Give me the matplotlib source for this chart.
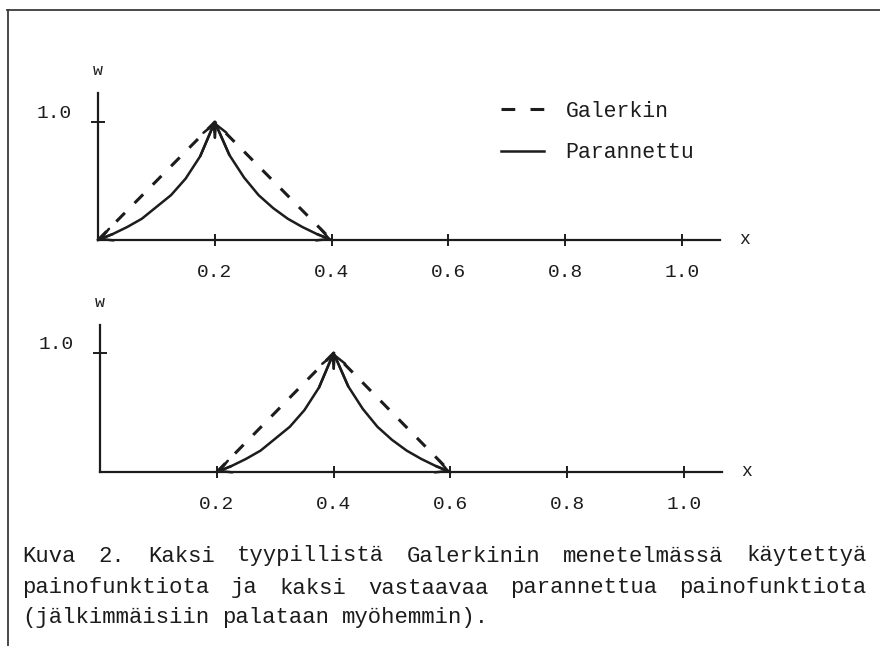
import matplotlib
matplotlib.use("Agg")
import matplotlib.pyplot as plt
from matplotlib.lines import Line2D

plt.rcParams['font.family'] = ['Liberation Mono', 'DejaVu Sans Mono']

# luetut arvot kuvasta
tick_x = [0.2, 0.4, 0.6, 0.8, 1.0]
tick_labels = ['0.2', '0.4', '0.6', '0.8', '1.0']

# ylempi: Galerkin (hattufunktio) ja parannettu
gal1_x = [0.0, 0.2, 0.4]
gal1_w = [0.0, 1.0, 0.0]
par1_x = [0.0, 0.025, 0.05, 0.075, 0.1, 0.125, 0.15, 0.175, 0.2,
          0.225, 0.25, 0.275, 0.3, 0.325, 0.35, 0.375, 0.4]
par1_w = [0.0, 0.05, 0.11, 0.18, 0.28, 0.38, 0.52, 0.71, 1.0,
          0.72, 0.53, 0.38, 0.27, 0.18, 0.11, 0.05, 0.0]

# alempi
gal2_x = [0.2, 0.4, 0.6]
gal2_w = [0.0, 1.0, 0.0]
par2_x = [0.2, 0.225, 0.25, 0.275, 0.3, 0.325, 0.35, 0.375, 0.4,
          0.425, 0.45, 0.475, 0.5, 0.525, 0.55, 0.575, 0.6]
par2_w = [0.0, 0.05, 0.11, 0.18, 0.28, 0.38, 0.52, 0.71, 1.0,
          0.72, 0.53, 0.38, 0.27, 0.18, 0.11, 0.05, 0.0]

caption = ['Kuva 2. Kaksi tyypillistä Galerkinin menetelmässä käytettyä',
           'painofunktiota ja kaksi vastaavaa parannettua painofunktiota',
           '(jälkimmäisiin palataan myöhemmin).']

ink = '#1c1c1c'
W, H = 880, 646
fig = plt.figure(figsize=(8.8, 6.46), dpi=100)


def px_box(x0, y0, w, h):
    # pikselit (ylhäältä) -> kuvan osuudet
    return [x0 / W, (H - y0 - h) / H, w / W, h / H]


def make_axes(box, ymax):
    ax = fig.add_axes(box)
    ax.set_xlim(0, 1.065)
    ax.set_ylim(0, ymax)
    for s in ['top', 'right']:
        ax.spines[s].set_visible(False)
    for s in ['left', 'bottom']:
        ax.spines[s].set_linewidth(1.6)
        ax.spines[s].set_color(ink)
    ax.set_xticks(tick_x)
    ax.set_xticklabels(tick_labels, fontsize=14, color=ink)
    ax.set_yticks([1.0])
    ax.set_yticklabels(['1.0'], fontsize=14, color=ink)
    ax.tick_params(axis='x', direction='inout', length=9, width=1.4,
                   pad=13, colors=ink)
    ax.tick_params(axis='y', direction='inout', length=10, width=1.4,
                   pad=14, colors=ink)
    for lab in ax.get_yticklabels():
        lab.set_va('bottom')
    ax.patch.set_alpha(0)
    return ax


def draw_pair(ax, gx, gw, px, pw):
    ax.plot(gx, gw, color=ink, lw=2.2, dashes=(4, 4.5), dash_capstyle='butt',
            clip_on=False)
    ax.plot(px, pw, color=ink, lw=1.8, clip_on=False)
    style = '->,head_length=0.6,head_width=0.32'
    peak = pw.index(max(pw))
    pairs = [(1, 0), (peak - 1, peak), (peak + 1, peak),
             (len(px) - 2, len(px) - 1)]
    for a, b in pairs:
        ax.annotate('', xy=(px[b], pw[b]), xytext=(px[a], pw[a]),
                    annotation_clip=False,
                    arrowprops=dict(arrowstyle=style, color=ink, lw=1.8,
                                    shrinkA=0, shrinkB=0, mutation_scale=14))


ax1 = make_axes(px_box(98, 93, 622, 147), 147 / 118)
ax2 = make_axes(px_box(100, 325, 622, 147), 147 / 119)

draw_pair(ax1, gal1_x, gal1_w, par1_x, par1_w)
draw_pair(ax2, gal2_x, gal2_w, par2_x, par2_w)

for ax in [ax1, ax2]:
    ax.text(0.0, 1.1, 'w', transform=ax.transAxes, fontsize=12,
            ha='center', va='bottom', color=ink)
    ax.text(1.04, 0.0, 'x', transform=ax.transAxes, fontsize=13,
            ha='center', va='center', color=ink)

leg_handles = [Line2D([], [], color=ink, lw=2.2, dashes=(4.5, 5)),
               Line2D([], [], color=ink, lw=1.8)]
ax1.legend(leg_handles, ['Galerkin', 'Parannettu'], loc='upper left',
           bbox_to_anchor=(501 / W, 1 - 101 / H),
           bbox_transform=fig.transFigure, frameon=False,
           prop={'size': 15.5}, handlelength=2.0, handletextpad=1.0,
           labelspacing=0.95, borderpad=0, borderaxespad=0,
           labelcolor=ink)

# kuvateksti tasattuna
fs = 16
adv = fs * 100 / 72 * 0.6
left, right = 22, 866
line_y = [556, 588, 618]
for i, line in enumerate(caption):
    words = line.split(' ')
    if i < len(caption) - 1:
        used = sum(len(w) for w in words) * adv
        gap = (right - left - used) / (len(words) - 1)
    else:
        gap = adv
    x = left
    for w in words:
        fig.text(x / W, 1 - line_y[i] / H, w, fontsize=fs, ha='left',
                 va='center', color=ink)
        x += len(w) * adv + gap

# kehys
fig.add_artist(Line2D([8 / W, 8 / W], [0, 1 - 10 / H], color='#3a3a3a',
                      lw=1.3, transform=fig.transFigure))
fig.add_artist(Line2D([7 / W, 1], [1 - 10 / H, 1 - 10 / H], color='#3a3a3a',
                      lw=1.3, transform=fig.transFigure))

fig.savefig('out.png', dpi=100)
